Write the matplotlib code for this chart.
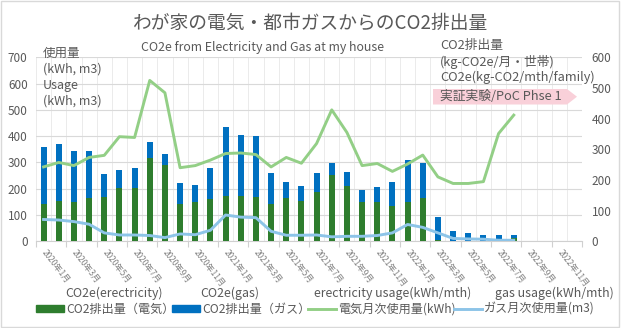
import numpy as np
import matplotlib
matplotlib.use('Agg')
import matplotlib.pyplot as plt
from matplotlib.patches import Patch, Polygon, Rectangle
from matplotlib.lines import Line2D

plt.rcParams['font.family'] = ['Noto Sans CJK JP', 'DejaVu Sans']

# Data (2020/1 - 2022/12, monthly)
months = [f"{2020 + i // 12}年{i % 12 + 1}月" for i in range(36)]
nan = np.nan

# CO2 emissions (kg-CO2e / month / household) -> right axis
co2_elec = [123, 131, 128, 142, 144, 175, 173, 272, 248, 123, 128, 137,
            148, 148, 144, 123, 142, 131, 162, 217, 181, 127, 129, 116,
            127, 142, 3, 0, 0, 0, 0, 11, nan, nan, nan, nan]
co2_gas = [184, 187, 166, 152, 75, 57, 65, 51, 37, 66, 55, 101,
           224, 199, 199, 99, 52, 49, 62, 39, 46, 40, 49, 78,
           138, 114, 75, 32, 26, 19, 19, 8, nan, nan, nan, nan]

# usage -> left axis
elec_kwh = [283, 300, 288, 319, 327, 398, 395, 612, 565, 280, 288, 309,
            334, 336, 330, 283, 319, 297, 372, 500, 414, 288, 296, 266,
            294, 328, 245, 220, 220, 227, 410, 480, nan, nan, nan, nan]
gas_m3 = [83, 81, 75, 65, 32, 24, 24, 22, 14, 28, 25, 42,
          100, 92, 90, 38, 23, 23, 24, 17, 19, 19, 22, 32,
          64, 53, 32, 11, 9, 8, 4, 4, nan, nan, nan, nan]

c_elec_bar = '#2E7D2E'
c_gas_bar = '#0070C0'
c_elec_line = '#93CF86'
c_gas_line = '#8DC4E8'
txt = '#595959'

fig = plt.figure(figsize=(6.21, 3.28), dpi=100)
W, H = 621, 328

def fx(px):
    return px / W

def fy(py):
    return 1 - py / H

x = np.arange(36)

# base axis: grid + left ticks
ax = fig.add_axes([fx(36), fy(241.3), fx(546), 184 / H])
ax.set_xlim(-0.5, 35.5)
ax.set_ylim(0, 700)
ax.set_yticks(range(0, 701, 100))
ax.grid(axis='y', color='#D9D9D9', lw=0.8)
ax.set_xticks(x[::2])
ax.set_xticklabels(months[::2], rotation=-52, rotation_mode='anchor',
                   ha='left', va='center', fontsize=6, color='#808080')
ax.set_xticks(np.arange(-0.5, 36, 1), minor=True)
ax.grid(axis='x', which='minor', color='#EBEBEB', lw=0.7)
ax.tick_params(axis='x', which='both', length=0, pad=7)
ax.tick_params(axis='y', length=0, labelsize=8.5, labelcolor=txt, pad=6)
for s in ['top', 'left', 'right']:
    ax.spines[s].set_visible(False)
ax.spines['bottom'].set_color('#D0D0D0')
ax.set_axisbelow(True)

sec = ax.secondary_xaxis('bottom')
sec.set_xticks(np.arange(-0.5, 36, 2))
sec.tick_params(length=4, color='#D0D0D0', labelbottom=False)
sec.spines['bottom'].set_visible(False)

# bars on right axis
ax2 = ax.twinx()
ax2.set_ylim(0, 600)
ax2.set_yticks(range(0, 601, 100))
ax2.bar(x, co2_elec, width=0.4, color=c_elec_bar)
ax2.bar(x, co2_gas, width=0.4, bottom=co2_elec, color=c_gas_bar)
ax2.tick_params(axis='y', length=0, labelsize=8.5, labelcolor=txt, pad=7)
for s in ax2.spines.values():
    s.set_visible(False)

# lines on top, sharing left scale
ax3 = ax.twinx()
ax3.set_ylim(0, 700)
ax3.plot(x, elec_kwh, color=c_elec_line, lw=2.1)
ax3.plot(x, gas_m3, color=c_gas_line, lw=2.1)
ax3.set_yticks([])
for s in ax3.spines.values():
    s.set_visible(False)

# titles
fig.text(0.5, fy(23), 'わが家の電気・都市ガスからのCO2排出量', ha='center', va='center',
         fontsize=13.5, color=txt)
fig.text(fx(141), fy(47), 'CO2e from Electricity and Gas at my house', ha='left',
         va='center', fontsize=8.9, color=txt)

for yy, s in zip([53, 69, 85, 101], ['使用量', '(kWh, m3)', 'Usage', '(kWh, m3)']):
    fig.text(fx(43), fy(yy), s, ha='left', va='center', fontsize=9, color=txt)
for yy, s in zip([45, 61.7, 77.3], ['CO2排出量', '(kg-CO2e/月・世帯)', 'CO2e(kg-CO2/mth/family)']):
    fig.text(fx(440), fy(yy), s, ha='left', va='center', fontsize=9.2, color=txt)

# PoC arrow
arrow_px = [(433, 89), (567, 89), (577, 96.7), (567, 104.5), (433, 104.5)]
fig.patches.append(Polygon([(fx(a), fy(b)) for a, b in arrow_px], closed=True,
                           transform=fig.transFigure, facecolor='#F9D0D9',
                           edgecolor='none'))
fig.text(fx(440), fy(96.7), '実証実験/PoC Phse 1', ha='left', va='center',
         fontsize=9.2, color=txt)

# legend, one entry each placed like the original
handles = [Patch(color=c_elec_bar), Patch(color=c_gas_bar),
           Line2D([], [], color=c_elec_line, lw=2.1),
           Line2D([], [], color=c_gas_line, lw=2.1)]
labels = ['CO2排出量（電気）', 'CO2排出量（ガス）', '電気月次使用量(kWh)', 'ガス月次使用量(m3)']
for h, lab, xx in zip(handles, labels, [36, 172, 308, 454]):
    leg = fig.legend([h], [lab], loc='center left', bbox_to_anchor=(fx(xx), fy(309)),
                     frameon=False, fontsize=8.7, handlelength=2.3, handleheight=0.55,
                     handletextpad=0.2, borderpad=0, borderaxespad=0)
    for t in leg.get_texts():
        t.set_color(txt)

for xx, s in zip([65, 200, 314, 495],
                 ['CO2e(erectricity)', 'CO2e(gas)', 'erectricity usage(kWh/mth)',
                  'gas usage(kWh/mth)']):
    fig.text(fx(xx), fy(293), s, ha='left', va='center', fontsize=8.9, color=txt)

fig.patches.append(Rectangle((0.002, 0.003), 0.995, 0.994, transform=fig.transFigure,
                             facecolor='none', edgecolor='#D9D9D9', lw=1))

fig.savefig('out.png', dpi=100)
